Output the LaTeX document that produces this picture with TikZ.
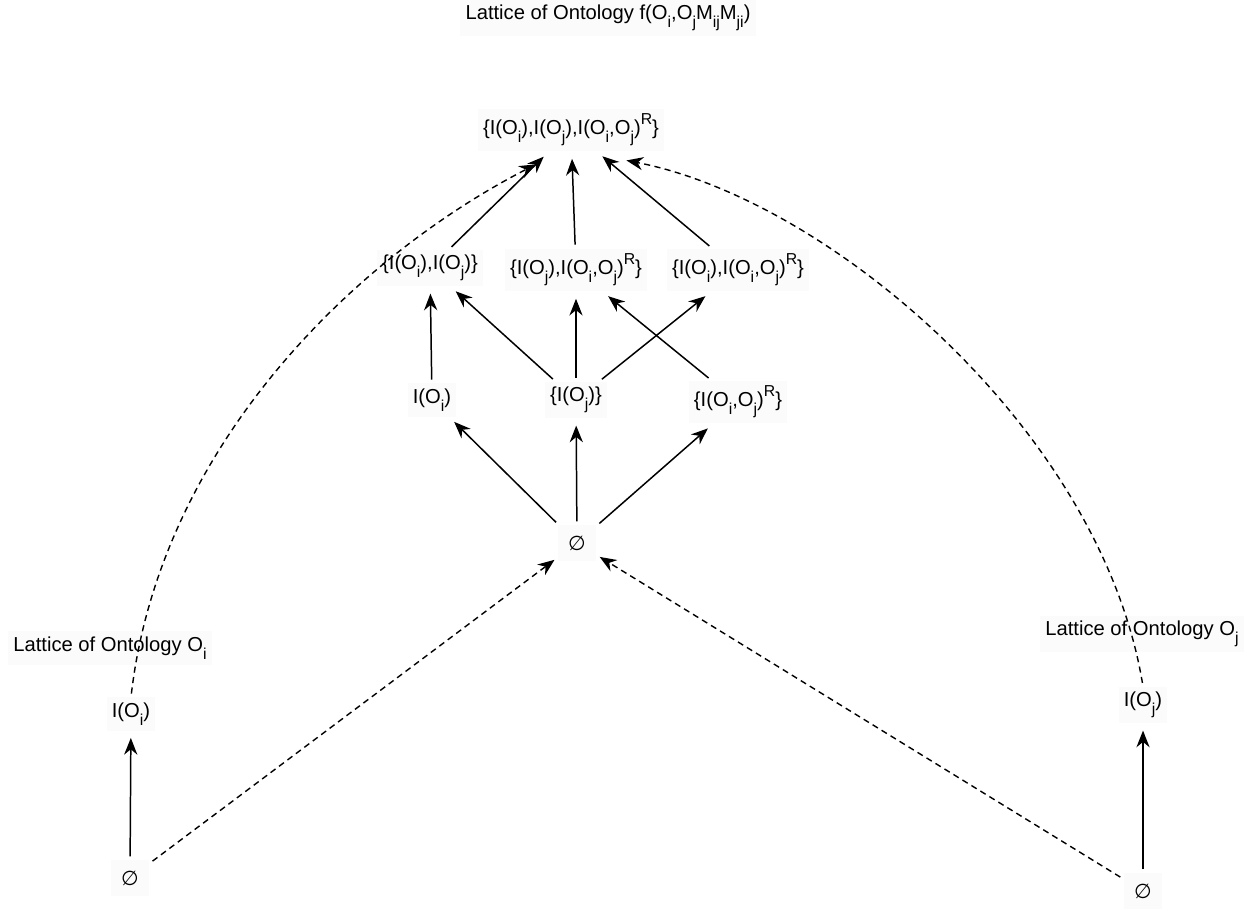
\documentclass[tikz,border=0pt]{standalone}
\usepackage{fontspec}
\setmainfont{Liberation Sans}
\newfontfamily\symf{DejaVu Sans}
\usetikzlibrary{arrows.meta,calc}
\newcommand{\sbs}[1]{\raisebox{-0.75ex}{\fontsize{9}{9}\selectfont #1}}
\newcommand{\sps}[1]{\raisebox{0.95ex}{\fontsize{9}{9}\selectfont #1}}
\newcommand{\myempty}{{\symf\char"2205}}
\tikzset{
  lbl/.style={inner sep=3pt, fill=black!1.5, font=\fontsize{11.5}{13}\selectfont},
  arr/.style={line width=0.85pt, -{Stealth[length=9.5pt,width=7.5pt]}, shorten >=4pt, shorten <=2pt},
  dsh/.style={line width=0.8pt, dash pattern=on 3.5pt off 2.5pt, -{Stealth[length=9.5pt,width=7.5pt]}, shorten >=2pt, shorten <=2pt}
}
\begin{document}
\begin{tikzpicture}[x=0.02cm,y=-0.02cm]
\useasboundingbox (0,0) rectangle (1251,911);
% titles
\node[lbl] (title) at (608,18) {Lattice of Ontology f(O\sbs{i},O\sbs{j}M\sbs{ij}M\sbs{ji})};
\node[lbl] (titleL) at (110,648) {Lattice of Ontology O\sbs{i}};
\node[lbl] (titleR) at (1142,634) {Lattice of Ontology O\sbs{j}};
% central lattice
\node[lbl] (top) at (571,130) {\{I(O\sbs{i}),I(O\sbs{j}),I(O\sbs{i},O\sbs{j})\sps{R}\}};
\node[lbl] (ab) at (430,268) {\{I(O\sbs{i}),I(O\sbs{j})\}};
\node[lbl] (bc) at (576,270) {\{I(O\sbs{j}),I(O\sbs{i},O\sbs{j})\sps{R}\}};
\node[lbl] (ac) at (738,270) {\{I(O\sbs{i}),I(O\sbs{i},O\sbs{j})\sps{R}\}};
\node[lbl] (a) at (432,400) {I(O\sbs{i})};
\node[lbl] (b) at (576,400) {\{I(O\sbs{j})\}};
\node[lbl] (c) at (738,402) {\{I(O\sbs{i},O\sbs{j})\sps{R}\}};
\node[lbl, inner sep=6pt] (e0) at (577,543) {\myempty};
% side lattices
\node[lbl] (iL) at (131,714) {I(O\sbs{i})};
\node[lbl, inner sep=6pt] (eL) at (130,878) {\myempty};
\node[lbl] (iR) at (1143,705) {I(O\sbs{j})};
\node[lbl, inner sep=6pt] (eR) at (1143,891) {\myempty};
% solid arrows
\draw[arr] (eL) -- (iL);
\draw[arr] (eR) -- (iR);
\draw[arr] (e0) -- (a);
\draw[arr] (e0) -- (b);
\draw[arr] (e0) -- (c);
\draw[arr] (a) -- (ab);
\draw[arr] (b) -- (ab);
\draw[arr] (b) -- (bc);
\draw[arr] (b) -- (ac);
\draw[arr] (c) -- (bc);
\draw[arr] (ab) -- (top);
\draw[arr] (bc) -- (top);
\draw[arr] (ac) -- (top);
% dashed arrows
\draw[dsh] (eL) -- (e0);
\draw[dsh] (eR) -- (e0);
\draw[dsh] (iL.north) .. controls (160,450) and (350,260) .. ($(top.south)+(-32,11)$);
\draw[dsh] (iR.north) .. controls (1100,430) and (830,200) .. ($(top.south)+(52,8)$);
\end{tikzpicture}
\end{document}
